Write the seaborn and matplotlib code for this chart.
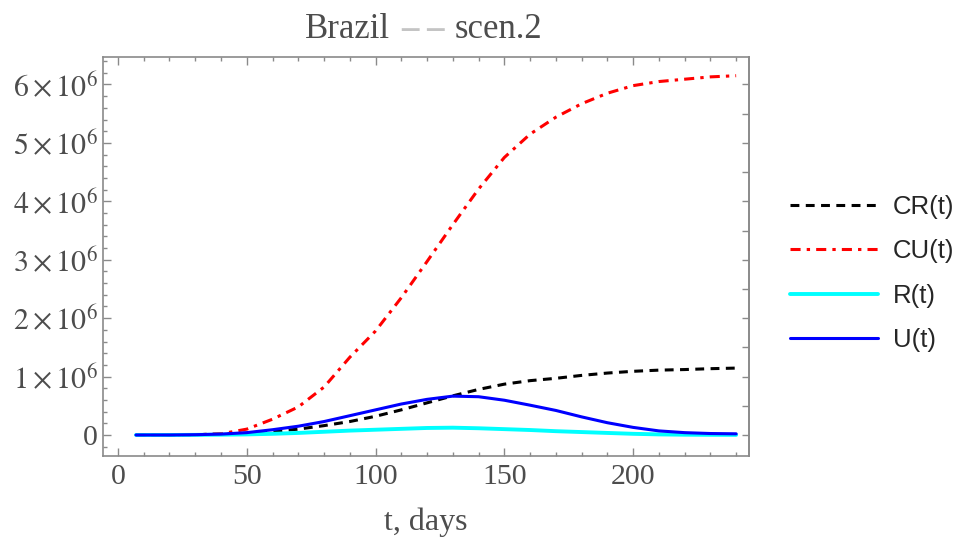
import numpy as np
import pandas as pd
import matplotlib
matplotlib.use('Agg')
import matplotlib.pyplot as plt
from matplotlib.ticker import MultipleLocator, NullLocator, FuncFormatter
from matplotlib.lines import Line2D
import seaborn as sns

# values (millions of people)
days = [7, 20, 30, 40, 50, 60, 70, 80, 90, 100, 110, 120, 130, 140, 150,
        160, 170, 180, 190, 200, 210, 220, 230, 240]
cr = [0.0, 0.0, 0.005, 0.015, 0.03, 0.06, 0.10, 0.16, 0.23, 0.32, 0.43, 0.55, 0.67,
      0.78, 0.87, 0.93, 0.97, 1.02, 1.06, 1.09, 1.11, 1.12, 1.135, 1.145]
cu = [0.0, 0.0, 0.005, 0.02, 0.10, 0.27, 0.48, 0.82, 1.33, 1.78, 2.35, 2.97, 3.60,
      4.21, 4.75, 5.15, 5.44, 5.67, 5.85, 5.98, 6.05, 6.09, 6.13, 6.15]
r = [0.0, 0.0, 0.002, 0.005, 0.01, 0.02, 0.035, 0.055, 0.075, 0.09, 0.105, 0.12, 0.125,
     0.115, 0.10, 0.085, 0.065, 0.05, 0.035, 0.02, 0.01, 0.005, 0.003, 0.002]
u = [0.0, 0.0, 0.005, 0.015, 0.04, 0.09, 0.15, 0.23, 0.33, 0.43, 0.53, 0.61, 0.665,
     0.655, 0.595, 0.51, 0.42, 0.31, 0.21, 0.13, 0.07, 0.04, 0.025, 0.02]
labels = ['CR(t)', 'CU(t)', 'R(t)', 'U(t)']
colors = ['black', '#ff0000', '#00ffff', '#0000ff']
styles = [(0, (2.9, 2.1)), (0, (3.3, 2.0, 1.1, 2.0)), '-', '-']
widths = [2.2, 2.2, 2.8, 2.2]

df = pd.DataFrame({'t': days, 'CR(t)': np.array(cr) * 1e6, 'CU(t)': np.array(cu) * 1e6,
                   'R(t)': np.array(r) * 1e6, 'U(t)': np.array(u) * 1e6})

sns.set_style('ticks')
plt.rcParams['mathtext.fontset'] = 'stix'
gray = '#4d4d4d'
framec = '#8a8a8a'

fig = plt.figure(figsize=(9.62, 5.43), dpi=100)
ax = fig.add_axes([0.1071, 0.1602, 0.6715, 0.7348])

for lab, col, ls, lw in zip(labels, colors, styles, widths):
    sns.lineplot(data=df, x='t', y=lab, ax=ax, color=col, linestyle=ls, linewidth=lw)

ax.set_xlim(-5.8, 245)
ax.set_ylim(-0.36e6, 6.47e6)
ax.xaxis.set_major_locator(MultipleLocator(50))
ax.xaxis.set_minor_locator(MultipleLocator(10))
ax.yaxis.set_major_locator(MultipleLocator(1e6))
ax.yaxis.set_minor_locator(MultipleLocator(0.2e6))

def yfmt(v, pos):
    n = int(round(v / 1e6))
    if n == 0:
        return '0'
    return r'$%d\times10^{6}$' % n

ax.yaxis.set_major_formatter(FuncFormatter(yfmt))
ax.tick_params(which='both', direction='in', top=True, right=False, color=framec,
               labelcolor=gray, labelsize=21.5, width=1)
ax.tick_params(which='major', length=6)
ax.tick_params(which='minor', length=3.2)
ax.tick_params(axis='x', pad=6)
ax.tick_params(axis='y', pad=4)
for lbl in ax.get_xticklabels() + ax.get_yticklabels():
    lbl.set_fontfamily('Liberation Serif')
for sp in ax.spines.values():
    sp.set_color(framec)
    sp.set_linewidth(1.2)

# right frame carries its own unlabeled ticks every 0.5e6
sec = ax.secondary_yaxis('right')
sec.yaxis.set_major_locator(MultipleLocator(0.5e6))
sec.yaxis.set_minor_locator(NullLocator())
sec.tick_params(direction='in', length=5, width=1, color=framec, labelright=False)
sec.spines['right'].set_color(framec)
sec.spines['right'].set_linewidth(1.2)

ax.set_xlabel('t, days', fontsize=23, color=gray, fontfamily='Liberation Serif', labelpad=12)
ax.set_ylabel('')

# title: "Brazil -- scen.2" with the dashes in a lighter gray
ty = 1 - 29 / 543
fig.text(0.4054, ty, 'Brazil', ha='right', va='center', fontsize=25,
         color=gray, fontfamily='Liberation Serif')
fig.text(0.4397, ty, '– –', ha='center', va='center', fontsize=25,
         color='#c4c4c4', fontfamily='Liberation Serif', fontweight='bold')
fig.text(0.4730, ty, 'scen.2', ha='left', va='center', fontsize=25,
         color=gray, fontfamily='Liberation Serif')

handles = [Line2D([], [], color=c, linestyle=s, linewidth=w)
           for c, s, w in zip(colors, styles, widths)]
leg = fig.legend(handles, labels, loc='center left', bbox_to_anchor=(0.8212, 0.4963),
                 frameon=False, handlelength=3.42, labelspacing=0.8, handletextpad=0.58,
                 borderaxespad=0, borderpad=0,
                 prop={'family': 'Liberation Sans', 'size': 18.5})

fig.savefig('out.png', dpi=100)
